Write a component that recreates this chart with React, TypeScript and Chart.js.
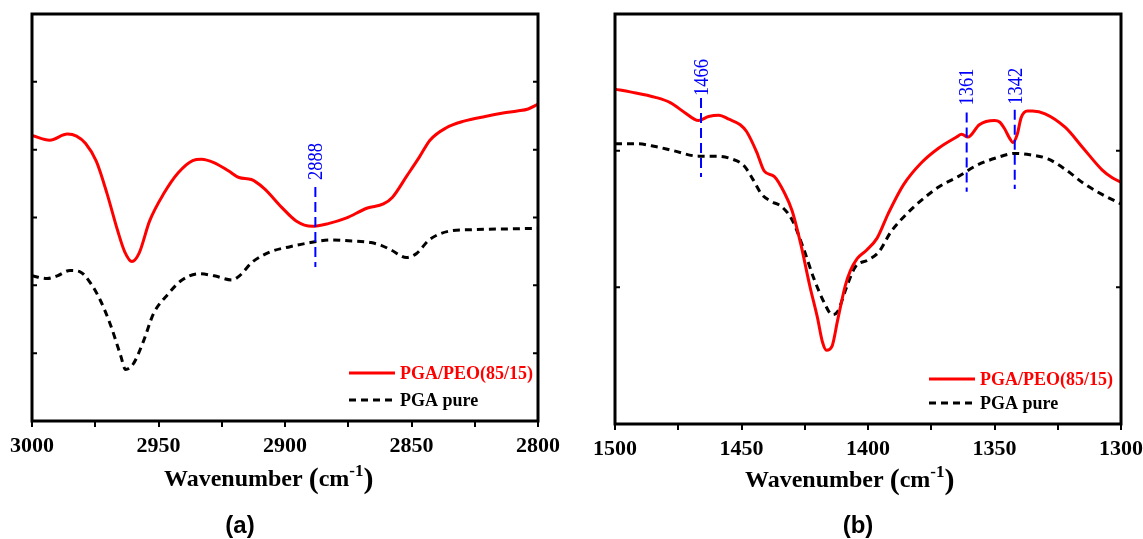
import React, { useEffect, useRef } from 'react';
import { Chart, registerables } from 'chart.js';

Chart.register(...registerables);

// ---------- data ----------
const seriesLabels = ['PGA/PEO(85/15)', 'PGA pure'];

// Panel (a): 3000-2800 cm-1
const wnA_blend = [3000, 2993, 2986, 2982.4, 2978.8, 2974.6, 2970.4, 2966.1, 2963.3, 2960.5, 2957.7, 2953.5, 2947.8, 2942.2, 2936.5, 2933, 2928.1, 2922.4, 2918.2, 2913.3, 2908.3, 2901.3, 2895.6, 2889.3, 2882.9, 2875.9, 2867.4, 2861.1, 2857.5, 2851.9, 2846.9, 2842.7, 2836.4, 2829.3, 2820.9, 2813.8, 2808.2, 2803.9, 2800];
const absA_blend = [4.21, 4.14, 4.23, 4.2, 4.09, 3.83, 3.36, 2.8, 2.49, 2.35, 2.47, 2.95, 3.36, 3.66, 3.84, 3.86, 3.81, 3.69, 3.59, 3.56, 3.43, 3.15, 2.95, 2.87, 2.91, 2.99, 3.14, 3.2, 3.3, 3.61, 3.89, 4.14, 4.32, 4.42, 4.49, 4.54, 4.57, 4.6, 4.67];
const wnA_pure = [3000, 2994, 2990, 2985, 2981, 2977, 2973, 2969, 2965, 2963, 2960, 2956, 2952, 2946, 2941, 2934, 2928, 2921, 2918, 2913, 2906, 2898, 2890, 2882, 2876, 2866, 2862, 2858, 2852, 2848, 2843, 2835, 2827, 2815, 2800];
const absA_pure = [2.14, 2.1, 2.14, 2.22, 2.2, 2.04, 1.78, 1.42, 0.97, 0.76, 0.84, 1.17, 1.58, 1.88, 2.07, 2.17, 2.14, 2.08, 2.14, 2.34, 2.49, 2.57, 2.63, 2.67, 2.66, 2.63, 2.59, 2.52, 2.41, 2.47, 2.67, 2.8, 2.82, 2.83, 2.84];

// Panel (b): 1500-1300 cm-1
const wnB_blend = [1500, 1494, 1484, 1478, 1472.5, 1467, 1463, 1459, 1455, 1450.5, 1448, 1444, 1441, 1437, 1433, 1430, 1426.5, 1423, 1420, 1418, 1416.4, 1414.2, 1412, 1409, 1407, 1404.3, 1400.7, 1396.4, 1392, 1386, 1379, 1372, 1365, 1363, 1360.5, 1356, 1350, 1348, 1346, 1344, 1342.7, 1341, 1339.5, 1337, 1335, 1330, 1322, 1315, 1307.5, 1303.3, 1300];
const absB_blend = [2.45, 2.43, 2.39, 2.35, 2.28, 2.22, 2.25, 2.26, 2.23, 2.19, 2.14, 1.99, 1.85, 1.81, 1.69, 1.56, 1.31, 1.01, 0.78, 0.6, 0.54, 0.57, 0.76, 1.01, 1.12, 1.21, 1.27, 1.36, 1.54, 1.75, 1.91, 2.02, 2.1, 2.12, 2.1, 2.19, 2.22, 2.21, 2.16, 2.09, 2.06, 2.12, 2.24, 2.29, 2.29, 2.27, 2.17, 2.02, 1.86, 1.8, 1.77];
const wnB_pure = [1500, 1491, 1484, 1477, 1467, 1460, 1454, 1449, 1445.5, 1442, 1438.4, 1434.1, 1429.9, 1425.6, 1421.3, 1417.1, 1414.2, 1412.1, 1408.5, 1405, 1400, 1395.7, 1390.8, 1385.1, 1378.7, 1371.6, 1364.4, 1357.3, 1348.8, 1341.7, 1336, 1328.9, 1321.8, 1314.7, 1307.5, 1300];
const absB_pure = [2.05, 2.05, 2.03, 2.0, 1.96, 1.96, 1.94, 1.89, 1.79, 1.68, 1.63, 1.59, 1.49, 1.29, 1.06, 0.88, 0.8, 0.82, 1.0, 1.15, 1.2, 1.26, 1.41, 1.53, 1.64, 1.74, 1.81, 1.89, 1.95, 1.98, 1.97, 1.94, 1.86, 1.76, 1.68, 1.61];

const xLabelsA = [3000, 2950, 2900, 2850, 2800];
const xLabelsB = [1500, 1450, 1400, 1350, 1300];
const peaksA = [2888];
const peaksB = [1466, 1361, 1342];
const captions = ['(a)', '(b)'];

// ---------- styles / layout ----------
const RED = '#ff0000';
const BLUE = '#0000ff';
const SERIF = '"Liberation Serif", "Times New Roman", serif';

type Panel = {
  left: number;
  width: number;
  pad: { left: number; right: number; top: number };
  axisHeight: number;
  xMin: number;
  xMax: number;
  yMax: number;
  xLabels: number[];
  blend: { x: number[]; y: number[] };
  pure: { x: number[]; y: number[] };
  peaks: number[];
  peakSpans: number[][];
  peakGaps: number[];
  legendLineOff: number;
  legendTextOff: number;
  legendY: number[];
  titleOff: number;
  titleY: number;
  caption: string;
  captionX: number;
  captionY: number;
};

const panels: Panel[] = [
  {
    left: 0,
    width: 571,
    pad: { left: 32, right: 33, top: 14 },
    axisHeight: 118,
    xMin: 2800,
    xMax: 3000,
    yMax: 6,
    xLabels: xLabelsA,
    blend: { x: wnA_blend, y: absA_blend },
    pure: { x: wnA_pure, y: absA_pure },
    peaks: peaksA,
    peakSpans: [[2.27, 3.45]],
    peakGaps: [7],
    legendLineOff: 189,
    legendTextOff: 138,
    legendY: [373, 400],
    titleOff: 132,
    titleY: 486,
    caption: captions[0],
    captionX: 240,
    captionY: 526,
  },
  {
    left: 571,
    width: 572,
    pad: { left: 44, right: 22, top: 14 },
    axisHeight: 115,
    xMin: 1300,
    xMax: 1500,
    yMax: 3,
    xLabels: xLabelsB,
    blend: { x: wnB_blend, y: absB_blend },
    pure: { x: wnB_pure, y: absB_pure },
    peaks: peaksB,
    peakSpans: [
      [1.807, 2.385],
      [1.7, 2.28],
      [1.72, 2.3],
    ],
    peakGaps: [2, 7, 5],
    legendLineOff: 192,
    legendTextOff: 141,
    legendY: [379, 403],
    titleOff: 130,
    titleY: 487,
    caption: captions[1],
    captionX: 287,
    captionY: 526,
  },
];

function decorPlugin(cfg: Panel) {
  return {
    id: 'decor',
    afterDatasetsDraw(chart: any) {
      const { ctx, chartArea: a, scales } = chart;
      const xs = scales.x;
      const ys = scales.y;
      ctx.save();

      // peak markers
      cfg.peaks.forEach((p, i) => {
        const px = xs.getPixelForValue(p);
        const [v0, v1] = cfg.peakSpans[i];
        const py0 = ys.getPixelForValue(v0);
        const py1 = ys.getPixelForValue(v1);
        ctx.strokeStyle = BLUE;
        ctx.lineWidth = 2;
        ctx.setLineDash([10, 5]);
        ctx.beginPath();
        ctx.moveTo(px, py1);
        ctx.lineTo(px, py0);
        ctx.stroke();
        ctx.setLineDash([]);
        ctx.save();
        ctx.translate(px, py1 - cfg.peakGaps[i]);
        ctx.rotate(-Math.PI / 2);
        ctx.scale(0.84, 1);
        ctx.fillStyle = BLUE;
        ctx.font = `22px ${SERIF}`;
        ctx.textAlign = 'left';
        ctx.textBaseline = 'middle';
        ctx.fillText(String(p), 0, 1);
        ctx.restore();
      });

      // frame
      ctx.setLineDash([]);
      ctx.strokeStyle = '#000';
      ctx.lineWidth = 3;
      ctx.strokeRect(a.left, a.top, a.right - a.left, a.bottom - a.top);

      // inward y ticks on both sides
      ctx.lineWidth = 2;
      for (let v = 1; v < cfg.yMax; v++) {
        const py = ys.getPixelForValue(v);
        ctx.beginPath();
        ctx.moveTo(a.left, py);
        ctx.lineTo(a.left + 5, py);
        ctx.moveTo(a.right, py);
        ctx.lineTo(a.right - 5, py);
        ctx.stroke();
      }

      // legend
      chart.data.datasets.forEach((ds: any, i: number) => {
        const y = cfg.legendY[i];
        const x0 = a.right - cfg.legendLineOff;
        ctx.strokeStyle = ds.borderColor;
        ctx.lineWidth = ds.borderWidth;
        ctx.setLineDash(ds.borderDash || []);
        ctx.beginPath();
        ctx.moveTo(x0, y);
        ctx.lineTo(x0 + 46, y);
        ctx.stroke();
        ctx.setLineDash([]);
        ctx.fillStyle = ds.borderColor;
        ctx.font = `bold 18px ${SERIF}`;
        ctx.textAlign = 'left';
        ctx.textBaseline = 'middle';
        ctx.fillText(ds.label, a.right - cfg.legendTextOff, y + 1);
      });

      // axis title: Wavenumber (cm-1)
      ctx.fillStyle = '#000';
      ctx.textAlign = 'left';
      ctx.textBaseline = 'alphabetic';
      let tx = a.left + cfg.titleOff;
      const ty = cfg.titleY;
      const parts: [string, string, number][] = [
        ['Wavenumber ', `bold 24px ${SERIF}`, 0],
        ['(', `bold 30px ${SERIF}`, 2],
        ['cm', `bold 24px ${SERIF}`, 0],
        ['-1', `bold 17px ${SERIF}`, -10],
        [')', `bold 30px ${SERIF}`, 2],
      ];
      parts.forEach(([t, f, dy]) => {
        ctx.font = f;
        ctx.fillText(t, tx, ty + dy);
        tx += ctx.measureText(t).width;
      });

      // caption
      ctx.font = 'bold 24px "Liberation Sans", Arial, sans-serif';
      ctx.textAlign = 'center';
      ctx.textBaseline = 'middle';
      ctx.fillText(cfg.caption, cfg.captionX, cfg.captionY);

      ctx.restore();
    },
  };
}

function toPoints(xs: number[], ys: number[]) {
  return xs.map((x, i) => ({ x, y: ys[i] }));
}

function PanelChart({ cfg }: { cfg: Panel }) {
  const ref = useRef<HTMLCanvasElement | null>(null);
  useEffect(() => {
    if (!ref.current) return;
    const chart = new Chart(ref.current, {
      type: 'line',
      data: {
        datasets: [
          {
            label: seriesLabels[0],
            data: toPoints(cfg.blend.x, cfg.blend.y),
            borderColor: RED,
            borderWidth: 3,
            pointRadius: 0,
            cubicInterpolationMode: 'monotone',
            fill: false,
          },
          {
            label: seriesLabels[1],
            data: toPoints(cfg.pure.x, cfg.pure.y),
            borderColor: '#000000',
            borderWidth: 3,
            borderDash: [7, 5],
            pointRadius: 0,
            cubicInterpolationMode: 'monotone',
            fill: false,
          },
        ],
      },
      options: {
        responsive: false,
        animation: false,
        events: [],
        layout: { padding: { left: cfg.pad.left, right: cfg.pad.right, top: cfg.pad.top, bottom: 0 } },
        plugins: { legend: { display: false }, tooltip: { enabled: false }, title: { display: false } },
        scales: {
          x: {
            type: 'linear',
            reverse: true,
            min: cfg.xMin,
            max: cfg.xMax,
            border: { display: false },
            grid: {
              display: true,
              drawOnChartArea: false,
              drawTicks: true,
              tickLength: 6,
              color: '#000',
              lineWidth: 2,
            },
            ticks: {
              stepSize: 25,
              autoSkip: false,
              maxRotation: 0,
              padding: 6,
              color: '#000',
              font: { family: SERIF, size: 22, weight: 'bold' },
              callback: (v: any) => (cfg.xLabels.includes(Number(v)) ? String(v) : ''),
            },
            afterFit: (scale: any) => {
              scale.height = cfg.axisHeight;
              scale.paddingLeft = 0;
              scale.paddingRight = 0;
            },
          },
          y: {
            type: 'linear',
            display: false,
            min: 0,
            max: cfg.yMax,
          },
        },
      },
      plugins: [decorPlugin(cfg)],
    } as any);
    return () => chart.destroy();
  }, [cfg]);
  return (
    <canvas
      ref={ref}
      width={cfg.width}
      height={539}
      style={{ position: 'absolute', left: cfg.left, top: 0, width: cfg.width, height: 539 }}
    />
  );
}

export default function App() {
  return (
    <div style={{ position: 'absolute', left: 0, top: 0, width: 1143, height: 539, background: '#fff' }}>
      {panels.map((p, i) => (
        <PanelChart key={i} cfg={p} />
      ))}
    </div>
  );
}
